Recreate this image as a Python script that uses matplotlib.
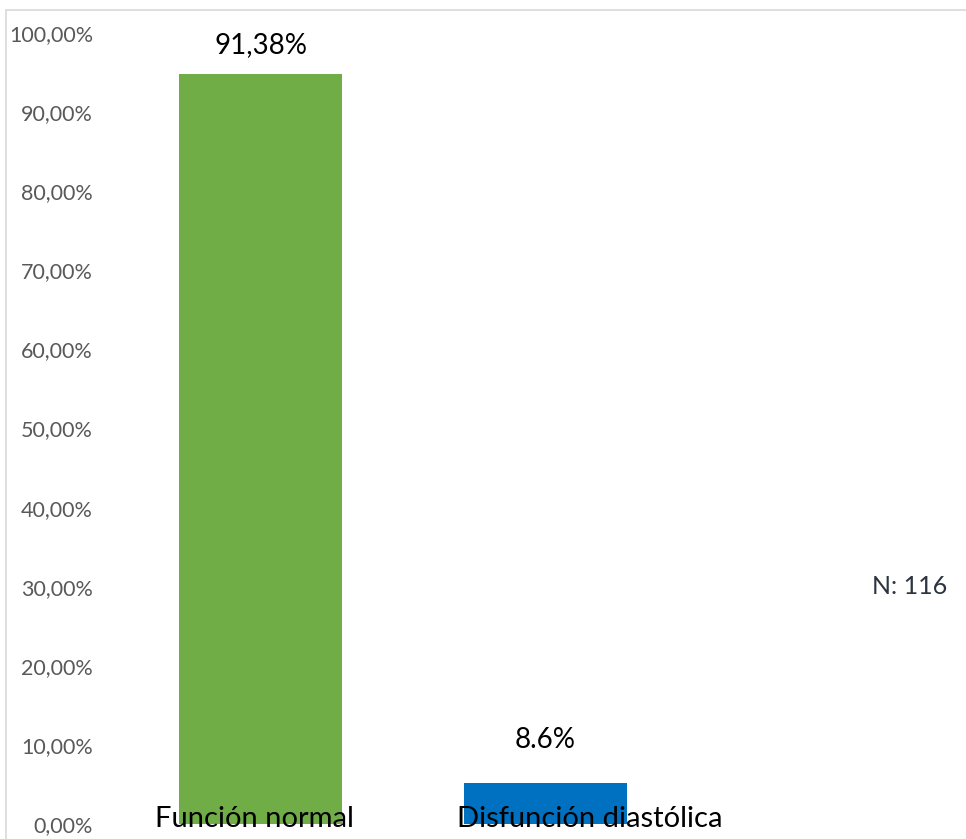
import matplotlib
matplotlib.use("Agg")
import matplotlib.pyplot as plt
from matplotlib.patches import Rectangle

plt.rcParams['font.family'] = ['Lato', 'DejaVu Sans']

categories = ["Función normal", "Disfunción diastólica"]
values = [94.83, 5.17]          # 110/116 and 6/116
labels = ["91,38%", "8.6%"]
colors = ["#70AD47", "#0070C0"]
yticks = list(range(0, 101, 10))

fig = plt.figure(figsize=(9.66, 8.39), dpi=100)
ax = fig.add_axes([118 / 966, 15 / 839, 570 / 966, 791 / 839])

x = range(len(categories))
ax.bar(x, values, width=0.575, color=colors, zorder=2)

# value labels, nudged above the bars as in the original
for i, (v, lab, off) in enumerate(zip(values, labels, [16, 30])):
    ax.annotate(lab, (i, v), xytext=(0, off), textcoords="offset pixels",
                ha="center", va="bottom", fontsize=20, color="black")

# category names sit on the baseline, over the bars (text boxes moved by hand)
for i, (c, dx) in enumerate(zip(categories, [-6, 44])):
    ax.annotate(c, (i, 0), xytext=(dx, -3), textcoords="offset pixels",
                ha="center", va="baseline", fontsize=21, color="black", zorder=3)

ax.set_xlim(-0.5, 1.5)
ax.set_ylim(0, 100)
ax.set_xticks([])
ax.set_yticks(yticks)
ax.set_yticklabels(["{:.2f}%".format(t).replace(".", ",") for t in yticks],
                   fontsize=15.5, color="#595959")
ax.tick_params(axis="y", length=0, pad=18)
for s in ax.spines.values():
    s.set_visible(False)

fig.text(872 / 966, 1 - 587 / 839, "N: 116", fontsize=18, color="#2B3440",
         ha="left", va="center")

fig.patches.append(Rectangle((6 / 966, -0.05), 1.1, 1 - 10 / 839 + 0.05,
                             transform=fig.transFigure, fill=False,
                             edgecolor="#D9D9D9", linewidth=1.2))

fig.savefig("out.png", dpi=100)
